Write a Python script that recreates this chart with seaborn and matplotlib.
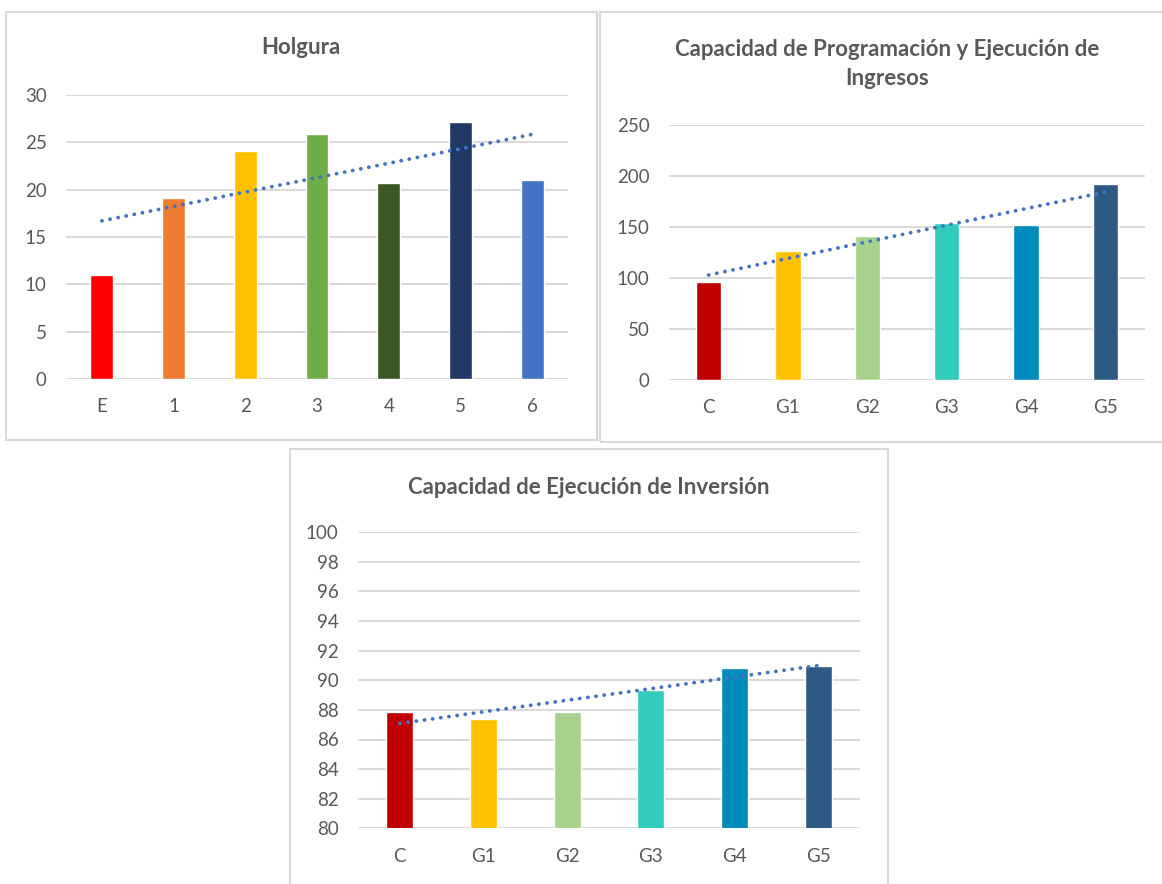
import numpy as np
import pandas as pd
import matplotlib
matplotlib.use("Agg")
import matplotlib.pyplot as plt
from matplotlib.patches import Rectangle
import seaborn as sns

# ---- data ----
holgura_cats = ["E", "1", "2", "3", "4", "5", "6"]
holgura_vals = [11.0, 19.1, 24.1, 25.9, 20.7, 27.1, 21.0]
holgura_colors = ["#FF0000", "#ED7D31", "#FFC000", "#70AD47", "#3A5724", "#203864", "#4472C4"]

grupo_cats = ["C", "G1", "G2", "G3", "G4", "G5"]
ingresos_vals = [96.0, 126.3, 141.0, 153.7, 151.8, 191.9]
inversion_vals = [87.86, 87.39, 87.86, 89.35, 90.83, 90.97]
grupo_colors = ["#C00000", "#FFC000", "#A9D18E", "#32CCBC", "#008BBC", "#2D5A85"]

titles = ["Holgura",
          "Capacidad de Programación y Ejecución de\nIngresos",
          "Capacidad de Ejecución de Inversión"]

# ---- style ----
sns.set_theme(style="white")
plt.rcParams["font.family"] = ["Lato", "DejaVu Sans"]

W, H = 1162, 884
TEXT = "#595959"
GRID = "#D9D9D9"
TREND = "#4472C4"

fig = plt.figure(figsize=(W / 100, H / 100), dpi=100)
fig.patch.set_facecolor("white")


def px_axes(x0, y0, x1, y1):
    return fig.add_axes([x0 / W, 1 - y1 / H, (x1 - x0) / W, (y1 - y0) / H])


def px_box(x0, y0, x1, y1):
    fig.add_artist(Rectangle((x0 / W, 1 - y1 / H), (x1 - x0) / W, (y1 - y0) / H,
                             transform=fig.transFigure, fill=False,
                             edgecolor=GRID, linewidth=1.5, zorder=0))


def px_text(x, y, s):
    fig.text(x / W, 1 - y / H, s, ha="center", va="center", fontsize=16,
             fontweight="bold", color=TEXT, linespacing=1.47)


def draw_panel(ax, cats, vals, colors, ylim, step):
    df = pd.DataFrame({"cat": cats, "val": vals})
    sns.barplot(data=df, x="cat", y="val", hue="cat", palette=colors,
                width=0.32, legend=False, ax=ax, saturation=1, zorder=2)
    # linear trend line across the bar centres
    xs = np.arange(len(vals))
    slope, icept = np.polyfit(xs, vals, 1)
    ax.plot(xs, slope * xs + icept, color=TREND, linewidth=2.7,
            linestyle=(0, (0.05, 2.15)), dash_capstyle="round", zorder=3)
    ax.set_ylim(*ylim)
    ax.set_xlim(-0.5, len(cats) - 0.5)
    ax.set_yticks(np.arange(ylim[0], ylim[1] + step / 2, step))
    ax.yaxis.grid(True, color=GRID, linewidth=1.4, zorder=0)
    ax.set_axisbelow(True)
    ax.set_xlabel("")
    ax.set_ylabel("")
    for s in ax.spines.values():
        s.set_visible(False)
    ax.tick_params(axis="both", length=0, labelsize=13.5, colors=TEXT)
    ax.tick_params(axis="y", pad=14)
    ax.tick_params(axis="x", pad=14)
    ax.set_facecolor("none")


# chart frames
px_box(6, 12, 597, 440)
px_box(600, 12, 1175, 442)
px_box(290, 449, 888, 900)

# titles
px_text(301, 48, titles[0])
px_text(887, 64, titles[1])
px_text(589, 487, titles[2])

ax1 = px_axes(66, 95, 568, 379)
draw_panel(ax1, holgura_cats, holgura_vals, holgura_colors, (0, 30), 5)

ax2 = px_axes(669, 124.7, 1145, 380)
draw_panel(ax2, grupo_cats, ingresos_vals, grupo_colors, (0, 250), 50)

ax3 = px_axes(358, 532.3, 860, 828.3)
draw_panel(ax3, grupo_cats, inversion_vals, grupo_colors, (80, 100), 2)

fig.savefig("out.png", dpi=100, facecolor="white")
